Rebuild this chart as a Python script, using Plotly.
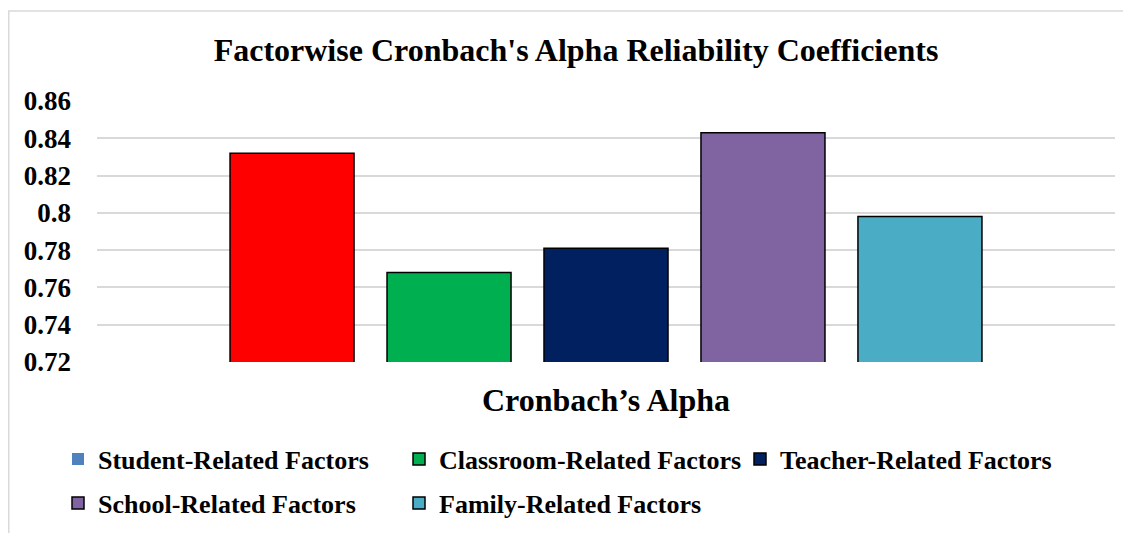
import plotly.graph_objects as go

title_text = "Factorwise Cronbach's Alpha Reliability Coefficients"
category = ["Cronbach’s Alpha"]
factors = ["Student-Related Factors", "Classroom-Related Factors", "Teacher-Related Factors",
           "School-Related Factors", "Family-Related Factors"]
alpha_values = [0.832, 0.768, 0.781, 0.843, 0.798]
bar_colors = ["#FF0000", "#00B050", "#002060", "#8064A2", "#4BACC6"]
student_legend_color = "#4F81BD"
tick_vals = [0.72, 0.74, 0.76, 0.78, 0.80, 0.82, 0.84, 0.86]
tick_text = ["0.72", "0.74", "0.76", "0.78", "0.8", "0.82", "0.84", "0.86"]

FONT = "Liberation Serif, Times New Roman, serif"
OFF = 8  # browser body margin
W, H = 1131 - OFF, 533 - OFF
L, T = 97 - OFF, 101 - OFF
R = W - (1115 - OFF)
B = H - (362 - OFF)
pw, ph = W - L - R, H - T - B


def px_x(p):
    return (p - OFF - L) / pw


def px_y(p):
    return (H - B - (p - OFF)) / ph


fig = go.Figure()

# legend-only swatch for Student (blue, as in the reference legend)
fig.add_trace(go.Scatter(
    x=[None], y=[None], mode="markers", name=factors[0], legend="legend",
    marker=dict(symbol="square", size=12, color=student_legend_color, line=dict(width=0)),
    showlegend=True, hoverinfo="skip"))

legend_of = ["legend", "legend", "legend", "legend2", "legend2"]
for i, (name, val, col) in enumerate(zip(factors, alpha_values, bar_colors)):
    fig.add_trace(go.Bar(
        x=category, y=[val], name=name,
        marker=dict(color=col, line=dict(color="#000000", width=1.5)),
        showlegend=(i != 0), legend=legend_of[i]))

legend_font = dict(family=FONT, size=26, color="#000000", weight="bold")

fig.update_layout(
    width=W, height=H,
    margin=dict(l=L, r=R, t=T, b=B, autoexpand=False),
    paper_bgcolor="white", plot_bgcolor="white",
    barmode="group", bargap=0.229, bargroupgap=0.21,
    title=dict(text=title_text, x=(576 - OFF) / W, xref="container", xanchor="center",
               y=1 - (50 - OFF) / H, yref="container", yanchor="middle",
               font=dict(family=FONT, size=32, color="#000000", weight="bold")),
    xaxis=dict(type="category", categoryarray=category, showticklabels=False, ticks="",
               showgrid=False, showline=False, zeroline=False,
               title=dict(text=category[0], standoff=26,
                          font=dict(family=FONT, size=32, color="#000000", weight="bold"))),
    yaxis=dict(range=[0.72, 0.86], tickvals=tick_vals, ticktext=tick_text,
               showgrid=True, gridcolor="#D9D9D9", gridwidth=1.5, zeroline=False,
               showline=False, ticks="", ticklabelstandoff=25,
               tickfont=dict(family=FONT, size=27, color="#000000", weight="bold")),
    legend=dict(orientation="h", x=px_x(58), xanchor="left", y=px_y(459), yanchor="middle",
                entrywidth=296, entrywidthmode="pixels", font=legend_font,
                bgcolor="rgba(0,0,0,0)", traceorder="normal"),
    legend2=dict(orientation="h", x=px_x(58), xanchor="left", y=px_y(503), yanchor="middle",
                 entrywidth=296, entrywidthmode="pixels", font=legend_font,
                 bgcolor="rgba(0,0,0,0)", traceorder="normal"),
    shapes=[dict(type="rect", xref="paper", yref="paper",
                 x0=(0.75 - L) / pw, x1=(W + 2 - L) / pw,
                 y0=(H - B - (H + 2)) / ph, y1=px_y(11),
                 line=dict(color="#D9D9D9", width=1.5), fillcolor="rgba(0,0,0,0)", layer="below")],
    showlegend=True,
)

fig.write_html("out.html")
